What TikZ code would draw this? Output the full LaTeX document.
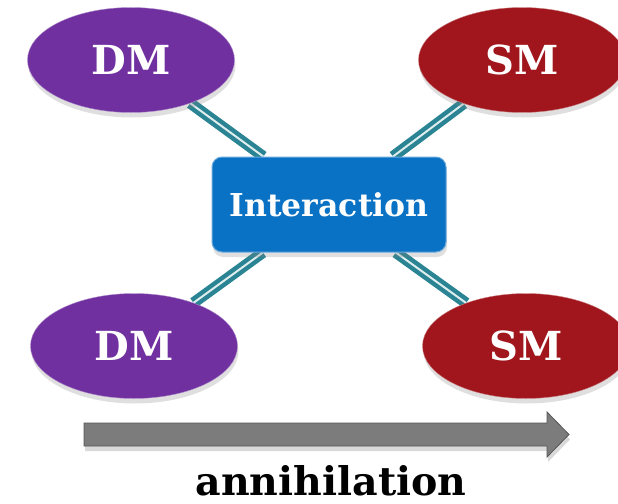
\documentclass[tikz,border=0pt]{standalone}
\usepackage{fontspec}
\setmainfont{DejaVu Serif}
\usetikzlibrary{shapes.geometric,shadows,backgrounds}
\definecolor{dmpurple}{HTML}{7030A0}
\definecolor{smred}{HTML}{A0161C}
\definecolor{boxblue}{HTML}{0A72C4}
\definecolor{linkteal}{HTML}{2A8493}
\definecolor{arrowgray}{HTML}{7C7C7C}
\begin{document}
\begin{tikzpicture}[x=1pt,y=-1pt,
  particle/.style={ellipse, minimum width=207pt, minimum height=105pt, inner sep=0pt,
    text=white, font=\fontsize{40}{42}\selectfont\bfseries,
    drop shadow={shadow xshift=1pt, shadow yshift=-5pt, opacity=0.25}},
  vertexbox/.style={rectangle, rounded corners=10pt, minimum width=234pt, minimum height=95pt,
    fill=boxblue, draw=boxblue!60!white, line width=1pt, text=white,
    font=\fontsize{31.5}{33}\selectfont\bfseries,
    drop shadow={shadow xshift=1pt, shadow yshift=-5pt, opacity=0.25}},
  link/.style={draw=linkteal, line width=4.5pt, double=white!85!linkteal, double distance=2pt}]
\useasboundingbox (0,0) rectangle (618,503);

% Particles
\node[particle, fill=dmpurple, draw=dmpurple!55!white] (dm1) at (131,60) {DM};
\node[particle, fill=smred, draw=smred!55!white] (sm1) at (522,60) {SM};
\node[particle, fill=dmpurple, draw=dmpurple!55!white] (dm2) at (134,346) {DM};
\node[particle, fill=smred, draw=smred!55!white] (sm2) at (526,346) {SM};

% Vertex
\node[vertexbox] (int) at (329,204.5) {Interaction};

% Legs
\begin{scope}[on background layer]
\draw[link] (dm1) -- (int);
\draw[link] (sm1) -- (int);
\draw[link] (dm2) -- (int);
\draw[link] (sm2) -- (int);
\end{scope}

% Time arrow
\draw[fill=arrowgray, draw=arrowgray!70!black, line width=0.8pt,
  drop shadow={shadow xshift=1pt, shadow yshift=-5pt, opacity=0.3}]
  (84,423) -- (547,423) -- (547,412) -- (569,434.5) -- (547,457) -- (547,446) -- (84,446) -- cycle;
\node[anchor=base, font=\fontsize{39.5}{44}\selectfont\bfseries] (ann) at (331,495) {annihilation};
\end{tikzpicture}
\end{document}
